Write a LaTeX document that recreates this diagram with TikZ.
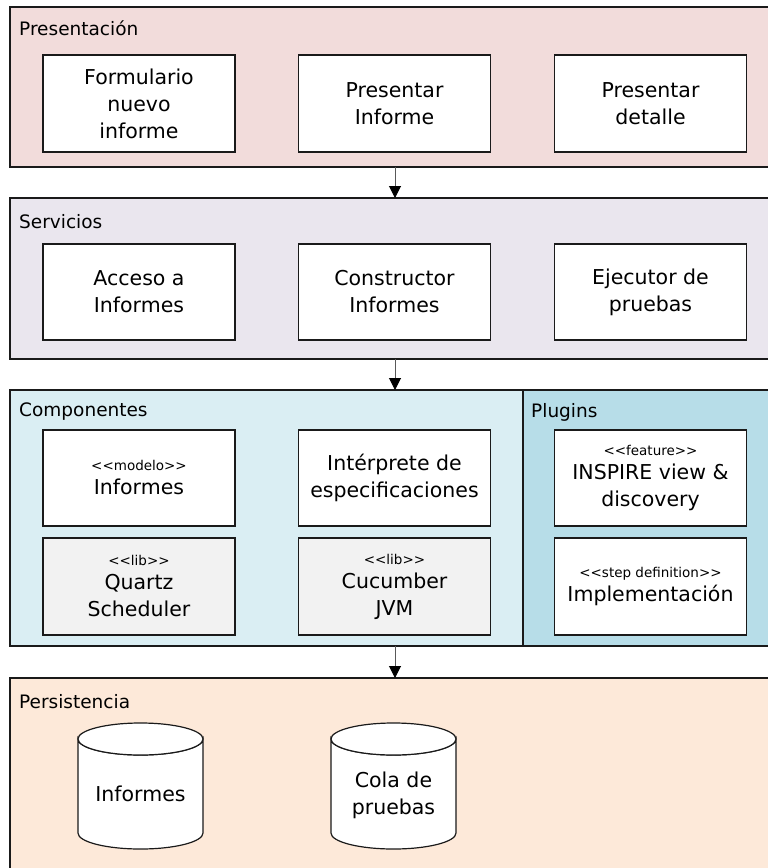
\documentclass[tikz,border=0pt]{standalone}
\usepackage{fontspec}
\setmainfont{DejaVu Sans}
\usetikzlibrary{arrows.meta}
\definecolor{cpres}{HTML}{F2DCDB}
\definecolor{cserv}{HTML}{EAE6EE}
\definecolor{ccomp}{HTML}{DAEEF3}
\definecolor{cplug}{HTML}{B7DDE8}
\definecolor{cpers}{HTML}{FDE9D9}
\definecolor{clib}{HTML}{F2F2F2}
\definecolor{cline}{HTML}{1A1A1A}
\newcommand{\stereo}[1]{{\fontsize{13.5}{15}\selectfont <{}<#1>{}>}}
\begin{document}
\begin{tikzpicture}[x=1pt,y=-1pt,
  layer/.style={draw=cline,line width=1.2pt,rectangle,inner sep=0pt,outer sep=0pt,anchor=north west},
  ltitle/.style={anchor=west,inner sep=0pt,font=\fontsize{18.5}{22}\selectfont},
  cbox/.style={draw=cline,line width=1.2pt,fill=white,rectangle,inner sep=0pt,outer sep=0pt,
    minimum width=192pt,minimum height=97pt,align=center,font=\fontsize{20.5}{27}\selectfont},
  libbox/.style={cbox,fill=clib},
  dbtext/.style={align=center,inner sep=0pt,font=\fontsize{20.5}{27}\selectfont},
  dbshape/.style={draw=cline,line width=1.2pt,fill=white},
  arr/.style={draw=black!65,line width=1pt,-{Triangle[length=12pt,width=12pt,color=black]}}]
\useasboundingbox (0,0) rectangle (768,868);
\clip (0,0) rectangle (768,868);

% layers
\node[layer,fill=cpres,minimum width=770pt,minimum height=160pt] (pres) at (10,7) {};
\node[layer,fill=cserv,minimum width=770pt,minimum height=161pt] (serv) at (10,198) {};
\node[layer,fill=ccomp,minimum width=770pt,minimum height=256pt] (comp) at (10,390) {};
\node[layer,fill=cplug,minimum width=260pt,minimum height=256pt] (plug) at (523,390) {};
\node[layer,fill=cpers,minimum width=770pt,minimum height=220pt] (pers) at (10,678) {};

\node[ltitle] (tpres) at (19,28) {Presentación};
\node[ltitle] (tserv) at (19,222) {Servicios};
\node[ltitle] (tcomp) at (19,412) {Componentes};
\node[ltitle] (tplug) at (531,412) {Plugins};
\node[ltitle] (tpers) at (19,702) {Persistencia};

% Presentacion
\node[cbox] (p1) at (139,103.5) {Formulario\\nuevo\\informe};
\node[cbox] (p2) at (394.5,103.5) {Presentar\\Informe};
\node[cbox] (p3) at (650.5,103.5) {Presentar\\detalle};

% Servicios
\node[cbox,minimum height=96pt] (s1) at (139,292) {Acceso a\\Informes};
\node[cbox,minimum height=96pt] (s2) at (394.5,292) {Constructor\\Informes};
\node[cbox,minimum height=96pt] (s3) at (650.5,292) {Ejecutor de\\pruebas};

% Componentes
\node[cbox,minimum height=96pt] (c1) at (139,478) {\stereo{modelo}\\[-3pt]Informes};
\node[cbox,minimum height=96pt] (c2) at (394.5,478) {Intérprete de\\especificaciones};
\node[libbox] (c3) at (139,586.5) {\stereo{lib}\\[-3pt]Quartz\\Scheduler};
\node[libbox] (c4) at (394.5,586.5) {\stereo{lib}\\[-3pt]Cucumber\\JVM};
\node[cbox,minimum height=96pt] (g1) at (650.5,478) {\stereo{feature}\\[-3pt]INSPIRE view \&\\discovery};
\node[cbox] (g2) at (650.5,586.5) {\stereo{step definition}\\[-3pt]Implementación};

% Persistencia
\foreach \n/\cx in {d1/140.5,d2/393.5}{
  \path[dbshape] (\cx-62.5,739) -- (\cx-62.5,833)
     arc[start angle=180,end angle=360,x radius=62.5pt,y radius=16pt]
     -- (\cx+62.5,739)
     arc[start angle=0,end angle=-180,x radius=62.5pt,y radius=16pt] -- cycle;
  \draw[dbshape] (\cx,739) ellipse[x radius=62.5pt,y radius=16pt];
}
\node[dbtext] (d1) at (140.5,794) {Informes};
\node[dbtext] (d2) at (393.5,795) {Cola de\\pruebas};

% arrows
\coordinate (ax) at (395,0);
\draw[arr] (pres.south -| ax) -- (serv.north -| ax);
\draw[arr] (serv.south -| ax) -- (comp.north -| ax);
\draw[arr] (comp.south -| ax) -- (pers.north -| ax);
\end{tikzpicture}
\end{document}
